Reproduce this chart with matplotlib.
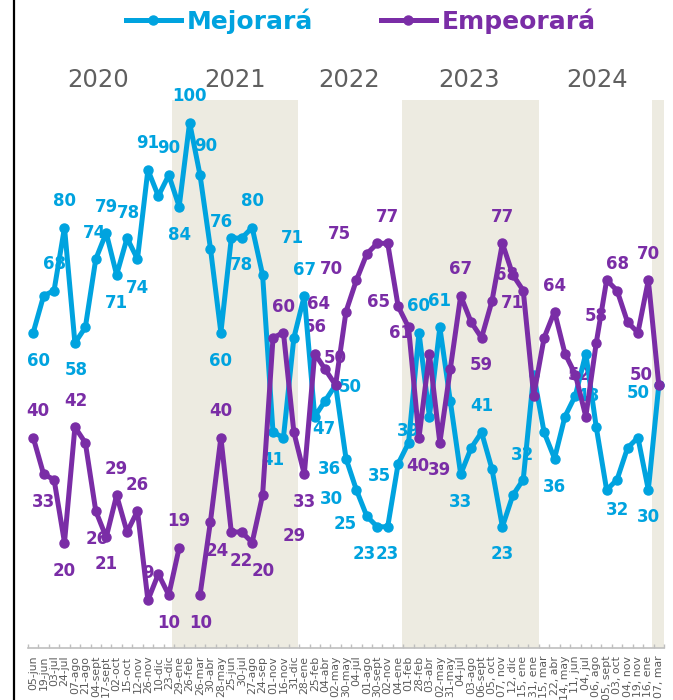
import numpy as np
import matplotlib
matplotlib.use("Agg")
import matplotlib.pyplot as plt
from matplotlib.lines import Line2D
from matplotlib.transforms import blended_transform_factory

# fechas de cada encuesta (eje categorico)
fechas = ["05-jun", "19-jun", "03-jul", "24-jul", "07-ago", "21-ago", "04-sept", "17-sept",
          "02-oct", "15-oct", "12-nov", "26-nov", "10-dic", "23-dic", "29-ene", "26-feb",
          "26-mar", "30-abr", "28-may", "25-jun", "30-jul", "27-ago", "24-sep", "01-nov",
          "16-nov", "31-dic", "28-ene", "25-feb", "04-abr", "02-may", "30-may", "04-jul",
          "01-ago", "30-sept", "02-nov", "04-ene", "01-feb", "28-feb", "03-abr", "02-may",
          "31-may", "04-jul", "03-ago", "06-sept", "05, oct", "07, nov", "12, dic", "15, ene",
          "31, ene", "15, mar", "22, abr", "14, may", "11, jun", "04, jul", "06, ago",
          "05, sept", "03, oct", "04, nov", "19, nov", "16, ene", "07, mar"]

mejorara = [60, 67, 68, 80, 58, 61, 74, 79, 71, 78, 74, 91, 86, 90, 84, 100,
            90, 76, 60, 78, 78, 80, 71, 41, 40, 59, 67, 44, 47, 50, 36, 30,
            25, 23, 23, 35, 39, 60, 44, 61, 47, 33, 38, 41, 34, 23, 29, 32,
            52, 41, 36, 44, 48, 56, 42, 30, 32, 38, 40, 30, 50]

empeorara = [40, 33, 32, 20, 42, 39, 26, 21, 29, 22, 26, 9, 14, 10, 19, np.nan,
             10, 24, 40, 22, 22, 20, 29, 59, 60, 41, 33, 56, 53, 50, 64, 70,
             75, 77, 77, 65, 61, 40, 56, 39, 53, 67, 62, 59, 66, 77, 71, 68,
             48, 59, 64, 56, 52, 44, 58, 70, 68, 62, 60, 70, 50]

anios = ["2020", "2021", "2022", "2023", "2024"]
anios_x = [6.26, 19.35, 30.29, 41.8, 54.1]
bandas = [(13.3, 25.4), (35.37, 48.51), (59.35, 60.5)]

# etiquetas de datos: indice -> desplazamiento en pixeles (dx, dy)
etq_mej = {0: (5, -28), 2: (0, 27), 3: (0, 27), 4: (1, -27), 6: (-1, 26), 7: (0, 26),
           8: (0, -28), 9: (1, 25), 10: (0, -29), 11: (0, 27), 13: (0, 27), 14: (0, -28),
           15: (0, 27), 16: (6, 29), 17: (11, 27), 18: (0, -28), 20: (0, -27), 21: (0, 27),
           22: (30, 37), 23: (0, -28), 26: (0, 26), 28: (-1, -28), 29: (15, -2),
           30: (-17, -10), 31: (-25, -9), 32: (-22, -8), 33: (-13, -27), 34: (0, -27),
           35: (-19, -12), 36: (0, 12), 37: (0, 27), 39: (0, 26), 41: (0, -28), 43: (0, 26),
           45: (0, -27), 47: (-1, 25), 50: (0, -28), 52: (12, 0), 56: (0, -30),
           59: (0, -27), 60: (-21, -8)}
etq_emp = {0: (5, 27), 1: (0, -28), 3: (0, -28), 4: (1, 26), 6: (1, -28), 7: (0, -27),
           8: (0, 26), 10: (0, 26), 11: (0, 27), 13: (0, -28), 14: (0, 27), 16: (1, -28),
           17: (7, -29), 18: (0, 27), 20: (0, -29), 21: (11, -28), 22: (32, -41),
           24: (0, 26), 26: (0, -28), 27: (1, 27), 29: (0, 27), 30: (-27, 8), 31: (-25, 11),
           32: (-27, 20), 34: (0, 26), 35: (-20, 4), 36: (-8, -6), 37: (-1, -28),
           39: (0, -27), 41: (0, 27), 43: (0, -27), 45: (0, 26), 46: (0, -28),
           47: (-17, 16), 50: (0, 26), 52: (4, 0), 54: (0, 27), 56: (0, 27), 59: (0, 26),
           60: (-18, 10)}

c_mej = "#00A3DF"
c_emp = "#7A2DA6"
gris = "#595959"

fig = plt.figure(figsize=(6.73, 7.0), dpi=100)
ax = fig.add_axes([28 / 673, 1 - 647.5 / 700, 636 / 673, 548 / 700])

x = np.arange(len(fechas))
for a, b in bandas:
    ax.axvspan(a, b, color="#EDEBE1", lw=0, zorder=0)

l1, = ax.plot(x, mejorara, color=c_mej, lw=3.6, marker="o", ms=6.5, zorder=3, label="Mejorará")
l2, = ax.plot(x, empeorara, color=c_emp, lw=3.6, marker="o", ms=6.5, zorder=4, label="Empeorará")

for serie, etq, col in [(mejorara, etq_mej, c_mej), (empeorara, etq_emp, c_emp)]:
    for i, (dx, dy) in etq.items():
        ax.annotate(f"{serie[i]:.0f}", (x[i], serie[i]), xytext=(dx, dy),
                    textcoords="offset pixels", ha="center", va="center",
                    color=col, fontsize=12, fontweight="bold", zorder=2,
                    annotation_clip=False)

ax.set_xlim(-0.5, 60.5)
ax.set_ylim(0, 104.4)
ax.set_yticks([])
for s in ["top", "right", "left"]:
    ax.spines[s].set_visible(False)
ax.spines["bottom"].set_color("#BFBFBF")
ax.spines["bottom"].set_linewidth(1.2)
ax.set_xticks(x)
ax.set_xticklabels(fechas, rotation=90, fontsize=7.8, color=gris, va="top")
ax.tick_params(axis="x", which="major", length=0, pad=6)
ax.set_xticks(np.arange(-0.5, 61, 1), minor=True)
ax.tick_params(axis="x", which="minor", length=3, direction="in", color="#BFBFBF", width=1)

tr = blended_transform_factory(ax.transData, fig.transFigure)
for anio, xa in zip(anios, anios_x):
    ax.text(xa, 1 - 80 / 700, anio, transform=tr, ha="center", va="center",
            fontsize=17.5, color="#5F5F5F")

leg = fig.legend(handles=[l1, l2], loc="center", bbox_to_anchor=(361 / 673, 1 - 21 / 700),
                 ncol=2, frameon=False, handlelength=2.2, handletextpad=0.25,
                 columnspacing=2.7, borderpad=0, prop={"weight": "bold", "size": 18})
for t, col in zip(leg.get_texts(), [c_mej, c_emp]):
    t.set_color(col)

fig.add_artist(Line2D([14 / 673, 14 / 673], [0, 1], color="black", lw=1.6))

fig.savefig("out.png", dpi=100)
